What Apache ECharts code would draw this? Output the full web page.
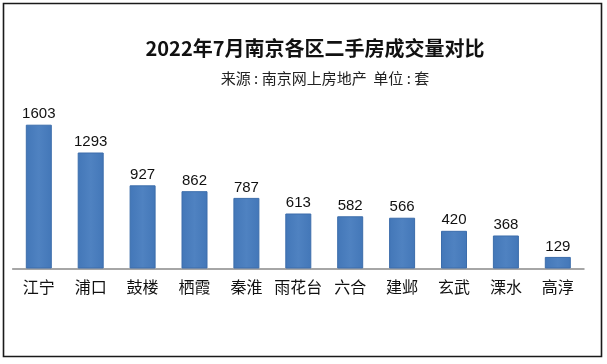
<!DOCTYPE html>
<html>
<head>
<meta charset="utf-8">
<script src="https://cdn.jsdelivr.net/npm/echarts@6/dist/echarts.min.js"></script>
<style>html,body{margin:0;padding:0;background:#fff;}#c{width:607px;height:364px;}</style>
</head>
<body>
<div id="c"></div>
<script>
var titleText = '2022年7月南京各区二手房成交量对比';
var subtitleText = '来源 : 南京网上房地产  单位 : 套';
var districts = ['江宁', '浦口', '鼓楼', '栖霞', '秦淮', '雨花台', '六合', '建邺', '玄武', '溧水', '高淳'];
var volumes = [1603, 1293, 927, 862, 787, 613, 582, 566, 420, 368, 129];

var chart = echarts.init(document.getElementById('c'), null, {renderer: 'canvas'});
chart.setOption({
  animation: false,
  backgroundColor: '#ffffff',
  graphic: [
    {type: 'rect', shape: {x: 3.5, y: 3.5, width: 598, height: 353}, style: {fill: 'none', stroke: '#1a1a1a', lineWidth: 1.6}, silent: true},
    {type: 'text', x: 315, y: 48.5, style: {text: titleText, fill: '#111', font: 'bold 20px "Noto Sans CJK SC", sans-serif', textAlign: 'center', textVerticalAlign: 'middle'}},
    {type: 'text', x: 325, y: 78, style: {text: subtitleText, fill: '#222', font: '15px "Noto Sans CJK SC", sans-serif', textAlign: 'center', textVerticalAlign: 'middle'}}
  ],
  grid: {left: 12.85, right: 23.25, top: 116, bottom: 95.5, containLabel: false},
  xAxis: {
    type: 'category',
    data: districts,
    axisLine: {show: true, lineStyle: {color: '#a6a6a6', width: 2}},
    axisTick: {show: false},
    axisLabel: {color: '#111', fontSize: 16, fontFamily: '"Noto Sans CJK SC", sans-serif', margin: 10, interval: 0}
  },
  yAxis: {
    type: 'value', min: 0, max: 1700, show: false, splitLine: {show: false}
  },
  series: [{
    type: 'bar',
    data: volumes,
    barWidth: 26,
    itemStyle: {
      color: new echarts.graphic.LinearGradient(0, 0, 1, 0, [
        {offset: 0, color: '#4377b8'},
        {offset: 0.5, color: '#4f82c1'},
        {offset: 1, color: '#4377b8'}
      ]),
      borderColor: '#3c6dab', borderWidth: 1
    },
    label: {show: true, position: 'top', distance: 3, color: '#111', fontSize: 15, fontFamily: '"Liberation Sans", Arial, sans-serif'}
  }]
});
</script>
</body>
</html>
